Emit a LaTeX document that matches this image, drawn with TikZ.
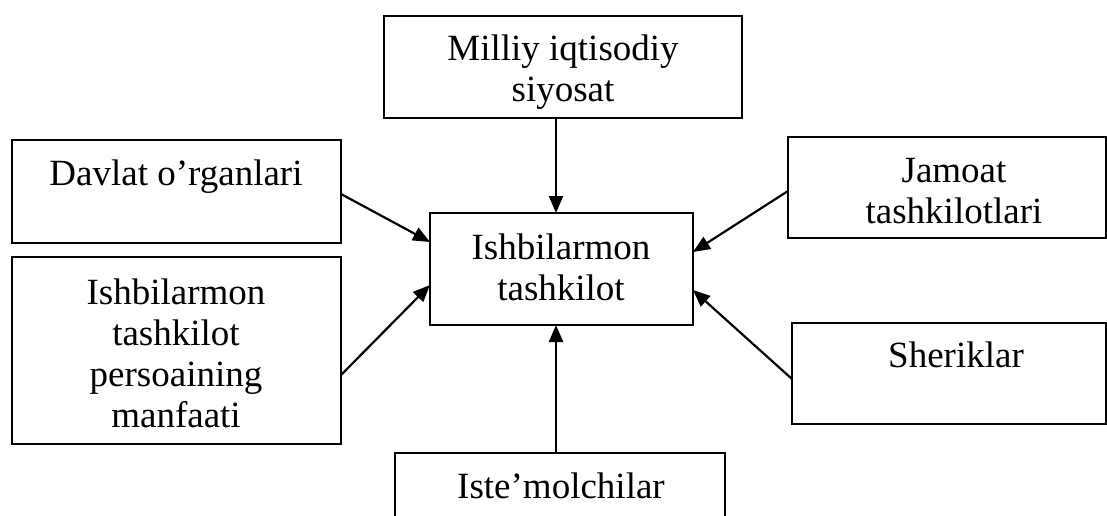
\documentclass[tikz,border=0pt]{standalone}
\usepackage{fontspec}
\setmainfont{Liberation Serif}
\usetikzlibrary{arrows.meta,calc}
\begin{document}
\begin{tikzpicture}[x=1pt,y=-1pt,
  box/.style={draw, line width=2.2pt, inner sep=0pt, outer sep=0pt},
  txt/.style={font=\fontsize{37}{41}\selectfont, align=center, anchor=base, inner sep=0pt},
  arr/.style={line width=2.2pt, -{Triangle[length=17pt,width=14pt]}}]
  \useasboundingbox (0,0) rectangle (1107,516);
  \begin{scope}
  \clip (0,0) rectangle (1107,516);
  % boxes
  \node[box, minimum width=358pt, minimum height=102pt] (pol) at (563,67) {};
  \node[box, minimum width=329pt, minimum height=103pt] (dav) at (176.5,191.5) {};
  \node[box, minimum width=329pt, minimum height=187pt] (per) at (176.5,350.5) {};
  \node[box, minimum width=263pt, minimum height=112pt] (ish) at (561.5,269) {};
  \node[box, minimum width=318pt, minimum height=101pt] (jam) at (947,187.5) {};
  \node[box, minimum width=314pt, minimum height=101pt] (she) at (949,373.5) {};
  \node[box, minimum width=330pt, minimum height=107pt] (ist) at (560,506.5) {};
  \end{scope}
  % texts (anchored at the baseline of their last line)
  \node[txt] (polt) at (563,102) {Milliy iqtisodiy\\siyosat};
  \node[txt] (davt) at (176,185) {Davlat o’rganlari};
  \node[txt] (pert) at (176,427) {Ishbilarmon\\tashkilot\\persoaining\\manfaati};
  \node[txt] (isht) at (561,300) {Ishbilarmon\\tashkilot};
  \node[txt] (jamt) at (954,223) {Jamoat\\tashkilotlari};
  \node[txt] (shet) at (956,367) {Sheriklar};
  \node[txt] (istt) at (561,498) {Iste’molchilar};
  % connectors
  \coordinate (vx) at (556,0);
  \draw[arr] (pol.south -| vx) -- (ish.north -| vx);
  \draw[arr] (ist.north -| vx) -- (ish.south -| vx);
  \draw[arr] ($(dav.east)+(0,2.5)$) -- ($(ish.west)+(0,-27)$);
  \draw[arr] ($(per.east)+(0,24.5)$) -- ($(ish.west)+(0,16)$);
  \draw[arr] ($(jam.west)+(0,3.5)$) -- ($(ish.east)+(0,-17)$);
  \draw[arr] ($(she.west)+(0,5.5)$) -- ($(ish.east)+(0,21)$);
\end{tikzpicture}
\end{document}
